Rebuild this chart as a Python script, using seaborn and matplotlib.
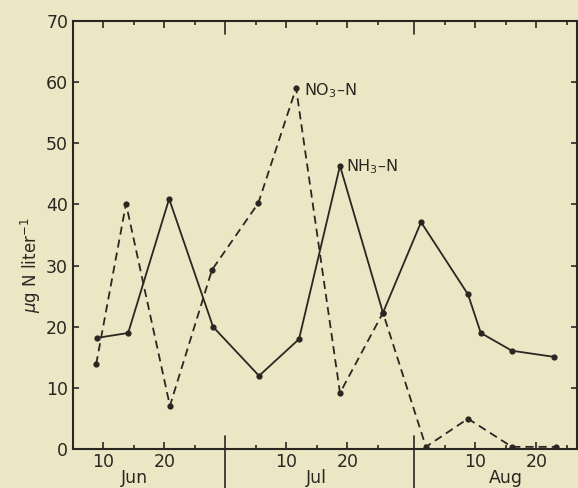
import matplotlib
matplotlib.use("Agg")
import matplotlib.pyplot as plt
import matplotlib.transforms as mtransforms
import numpy as np
import pandas as pd
import seaborn as sns

# Day index counted from 31 May: Jun d -> d, Jul d -> 30 + d, Aug d -> 61 + d
nh3_days = [8.97, 14.05, 20.77, 27.98, 35.52, 42.08, 48.8, 55.85, 62.1, 69.8, 71.9, 77.0, 83.9]
nh3_vals = [18.2, 19.0, 40.9, 20.0, 12.0, 18.0, 46.3, 22.3, 37.1, 25.3, 19.0, 16.1, 15.1]
no3_days = [8.8, 13.7, 20.9, 27.8, 35.4, 41.6, 48.8, 55.85, 62.9, 69.8, 77.0, 84.2]
no3_vals = [13.9, 40.1, 7.1, 29.3, 40.2, 59.0, 9.2, 22.3, 0.4, 5.0, 0.4, 0.4]

month_names = ["Jun", "Jul", "Aug"]
month_starts = [0, 30, 61]
month_bounds = [30, 61]
day_labels = [10, 20]
minor_days = [5, 15, 25]
y_ticks = [0, 10, 20, 30, 40, 50, 60, 70]

nh3_label = "NH$_3$\u2013N"
no3_label = "NO$_3$\u2013N"
y_label = r"$\mu$g N liter$^{-\mathsf{1}}$"

BG = "#ebe6c4"
INK = "#2a2722"

sns.set_theme(style="ticks")
plt.rcParams["font.family"] = ["DejaVu Sans"]
plt.rcParams["mathtext.fontset"] = "dejavusans"

fig = plt.figure(figsize=(5.78, 4.88), dpi=100, facecolor=BG)
ax = fig.add_axes([73 / 578, 1 - 449.3 / 488, (576.5 - 73) / 578, (449.3 - 20.7) / 488])
ax.set_facecolor(BG)

nh3 = pd.DataFrame({"day": nh3_days, "value": nh3_vals})
no3 = pd.DataFrame({"day": no3_days, "value": no3_vals})

sns.lineplot(data=nh3, x="day", y="value", ax=ax, color=INK, lw=1.3,
             marker="o", markersize=4.5, markeredgewidth=0, sort=False,
             estimator=None)
sns.lineplot(data=no3, x="day", y="value", ax=ax, color=INK, lw=1.3,
             linestyle=(0, (4.5, 2.8)), marker="o", markersize=4.5,
             markeredgewidth=0, sort=False, estimator=None)

ax.set_xlim(5, 87.6)
ax.set_ylim(0, 70)

# x ticks
major = [m + d for m in month_starts for d in day_labels]
minor = [m + d for m in month_starts for d in minor_days if 5 < m + d < 87.6]
ax.set_xticks(major)
ax.set_xticklabels([str(d) for m in month_starts for d in day_labels])
ax.set_xticks(minor, minor=True)
ax.set_yticks(y_ticks)
ax.set_yticklabels([str(v) for v in y_ticks])

ax.tick_params(axis="x", which="major", direction="in", length=5, width=1.2,
               top=True, bottom=True, labelsize=12.5, pad=3, colors=INK)
ax.tick_params(axis="x", which="minor", direction="in", length=2.8, width=1.2,
               top=True, bottom=True, colors=INK)
ax.tick_params(axis="y", which="major", direction="in", length=4.5, width=1.2,
               left=True, right=True, labelsize=12.5, pad=3.5, colors=INK)

for s in ax.spines.values():
    s.set_color(INK)
    s.set_linewidth(1.5)

# month boundaries: long marks crossing the bottom axis and at the top
for b in month_bounds:
    ax.axvline(b, ymin=-0.095, ymax=13 / 428.6, color=INK, lw=1.2, clip_on=False)
    ax.axvline(b, ymin=1 - 13 / 428.6, ymax=1, color=INK, lw=1.2, clip_on=False)

# month names
trans = mtransforms.blended_transform_factory(ax.transData, ax.transAxes)
for name, m in zip(month_names, month_starts):
    ax.text(m + 15, -0.067, name, transform=trans, ha="center", va="center",
            fontsize=12.5, color=INK)

# series labels
ax.annotate(no3_label, xy=(no3_days[5], no3_vals[5]), xytext=(5.8, -5),
            textcoords="offset points", ha="left", va="baseline",
            fontsize=11.5, color=INK)
ax.annotate(nh3_label, xy=(nh3_days[6], nh3_vals[6]), xytext=(4.2, -3.6),
            textcoords="offset points", ha="left", va="baseline",
            fontsize=11.5, color=INK)

ax.set_xlabel("")
ax.set_ylabel(y_label, fontsize=12, color=INK)
ax.yaxis.set_label_coords(-0.06, 0.43)

fig.savefig("out.png", dpi=100, facecolor=BG)
